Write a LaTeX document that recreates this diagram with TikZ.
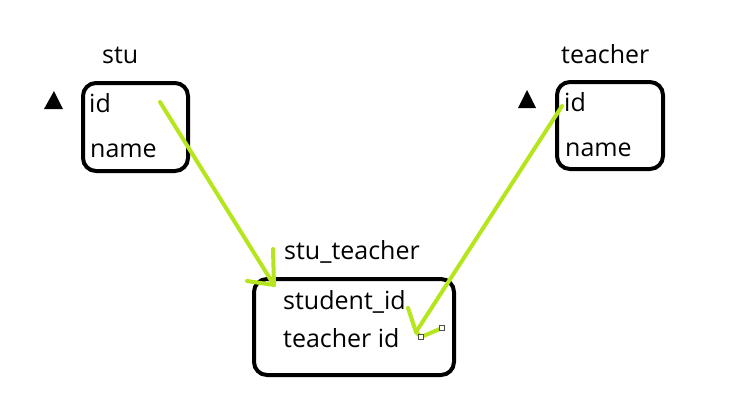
\documentclass[tikz,border=0pt]{standalone}
\usepackage{fontspec}
\setmainfont{Open Sans}
\definecolor{lime}{HTML}{B5E61D}
\begin{document}
\begin{tikzpicture}[x=1pt,y=-1pt,
  tbl/.style={draw=black,line width=4pt,rounded corners=13pt},
  lbl/.style={inner sep=0pt,anchor=base west,font=\fontsize{25}{29}\selectfont},
  tri/.style={fill=black},
  arr/.style={draw=lime,line width=4pt,line cap=round,line join=round},
  handle/.style={draw=black!70,fill=white,line width=0.8pt,minimum size=5pt,inner sep=0pt}]
\useasboundingbox (0,0) rectangle (748,416);
% tables
\draw[tbl] (83,83) rectangle (188,171);
\draw[tbl] (557,82) rectangle (663,169);
\draw[tbl] (254,279) rectangle (454,375);
% triangles
\fill[tri] (44,109) -- (54,91) -- (63,109) -- cycle;
\fill[tri] (518,108) -- (527,90) -- (536,108) -- cycle;
% titles
\node[lbl] (stut) at (102,63) {stu};
\node[lbl] (teat) at (561,63) {teacher};
\node[lbl] (sttt) at (284,259) {stu\_teacher};
% fields
\node[lbl] (sid) at (89,112) {id};
\node[lbl] (sname) at (90,157) {name};
\node[lbl] (tid) at (564,111) {id};
\node[lbl] (tname) at (565,156) {name};
\node[lbl] (stsid) at (283,309) {student\_id};
\node[lbl] (sttid) at (283,347) {teacher\ id};
% connector coordinates
\coordinate (a1) at (160,102);
\coordinate (a2) at (274,285);
\coordinate (b1) at (562,106);
\coordinate (b2) at (416,332);
% arrows
\draw[arr] (a1) -- (a2);
\draw[arr] (273,249) -- (a2) -- (247,281);
\draw[arr] (b1) -- (b2);
\draw[arr] (408,308) -- (b2) -- (421,337) -- (442,328);
\node[handle] (h1) at (421,337) {};
\node[handle] (h2) at (442,328) {};
\end{tikzpicture}
\end{document}
